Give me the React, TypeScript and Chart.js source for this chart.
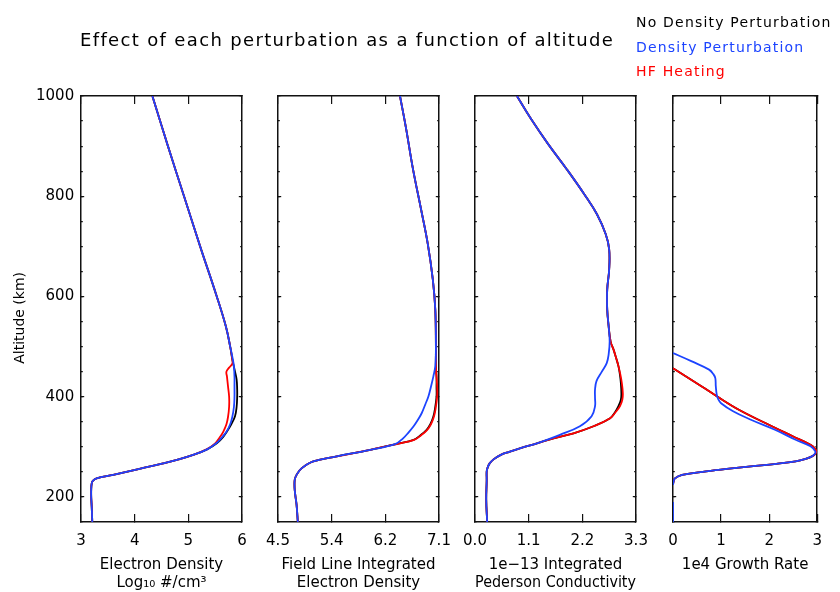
import React, { useEffect, useRef } from 'react';
import { Chart, registerables } from 'chart.js';

Chart.register(...registerables);

const W = 840;
const H = 592;
const PLOT_TOP = 96;
const PLOT_BOTTOM = 522;
const FONT = "'DejaVu Sans', sans-serif";

const BLACK = '#000000';
const BLUE = '#1c44ff';
const RED = '#ff0000';

const TITLE = 'Effect of each perturbation as a function of altitude';
const Y_TITLE = 'Altitude (km)';
const LEGEND = [
  { label: 'No Density Perturbation', color: BLACK },
  { label: 'Density Perturbation', color: BLUE },
  { label: 'HF Heating', color: RED },
];

const Y_MIN = 150;
const Y_MAX = 1000;
const yMajorTicks = [200, 400, 600, 800, 1000];
const yMinorTicks = [150, 200, 250, 300, 350, 400, 450, 500, 550, 600, 650, 700, 750, 800, 850, 900, 950, 1000];

// ---------- Panel 1: Electron density (log10 #/cm3) ----------
const p1Ticks = [3, 4, 5, 6];
const p1TickLabels = ['3', '4', '5', '6'];
const p1AltBlack = [1000, 900, 800, 700, 600, 540, 500, 474, 450, 434, 415, 400, 380, 361, 345, 334, 320, 307, 295, 284, 275, 267, 255, 244, 237, 232, 227, 215, 200, 180, 150];
const p1Black = [4.33, 4.62, 4.92, 5.22, 5.53, 5.70, 5.78, 5.82, 5.87, 5.90, 5.91, 5.91, 5.90, 5.87, 5.80, 5.74, 5.65, 5.53, 5.35, 5.09, 4.82, 4.53, 4.05, 3.60, 3.29, 3.22, 3.20, 3.19, 3.19, 3.20, 3.21];
const p1AltRed = [1000, 900, 800, 700, 600, 540, 500, 474, 466, 458, 450, 440, 420, 400, 380, 360, 345, 330, 318, 307, 295, 284, 275, 267, 255, 244, 237, 232, 227, 215, 200, 180, 150];
const p1Red = [4.33, 4.62, 4.92, 5.22, 5.53, 5.70, 5.78, 5.82, 5.82, 5.76, 5.71, 5.72, 5.74, 5.76, 5.76, 5.74, 5.71, 5.65, 5.58, 5.50, 5.34, 5.09, 4.82, 4.53, 4.05, 3.60, 3.29, 3.22, 3.20, 3.19, 3.19, 3.20, 3.21];
const p1AltBlue = [1000, 900, 800, 700, 600, 540, 500, 474, 460, 440, 420, 400, 380, 360, 345, 330, 318, 307, 295, 284, 275, 267, 255, 244, 237, 232, 227, 215, 200, 180, 150];
const p1Blue = [4.33, 4.62, 4.92, 5.22, 5.53, 5.70, 5.78, 5.83, 5.85, 5.86, 5.86, 5.86, 5.85, 5.82, 5.78, 5.71, 5.62, 5.52, 5.35, 5.09, 4.82, 4.53, 4.05, 3.60, 3.29, 3.22, 3.20, 3.19, 3.19, 3.20, 3.21];

// ---------- Panel 2: Field line integrated electron density ----------
const p2Ticks = [4.5, 5.3667, 6.2333, 7.1];
const p2TickLabels = ['4.5', '5.4', '6.2', '7.1'];
const p2AltBlack = [1000, 934, 854, 774, 704, 634, 574, 500, 461, 440, 420, 401, 380, 361, 345, 334, 324, 314, 306, 294, 281, 271, 257, 244, 234, 214, 184, 150];
const p2Black = [6.47, 6.57, 6.68, 6.81, 6.92, 7.00, 7.04, 7.05, 7.05, 7.06, 7.06, 7.06, 7.04, 7.01, 6.96, 6.90, 6.81, 6.69, 6.42, 5.99, 5.45, 5.07, 4.88, 4.80, 4.77, 4.77, 4.80, 4.82];
const p2AltRed = [1000, 934, 854, 774, 704, 634, 574, 500, 461, 440, 420, 401, 380, 361, 345, 334, 324, 314, 306, 294, 281, 271, 257, 244, 234, 214, 184, 150];
const p2Red = [6.47, 6.57, 6.68, 6.81, 6.92, 7.00, 7.04, 7.05, 7.05, 7.06, 7.07, 7.07, 7.05, 7.02, 6.97, 6.91, 6.82, 6.70, 6.43, 5.99, 5.45, 5.07, 4.88, 4.80, 4.77, 4.77, 4.80, 4.82];
const p2AltBlue = [1000, 934, 854, 774, 704, 634, 574, 500, 461, 441, 420, 401, 385, 367, 354, 341, 329, 317, 306, 294, 281, 271, 257, 244, 234, 214, 184, 150];
const p2Blue = [6.47, 6.57, 6.68, 6.81, 6.92, 7.00, 7.04, 7.05, 7.04, 7.01, 6.97, 6.93, 6.88, 6.82, 6.76, 6.69, 6.61, 6.52, 6.40, 5.99, 5.45, 5.07, 4.88, 4.80, 4.77, 4.77, 4.80, 4.82];

// ---------- Panel 3: 1e-13 integrated Pederson conductivity ----------
const p3Ticks = [0, 1.1, 2.2, 3.3];
const p3TickLabels = ['0.0', '1.1', '2.2', '3.3'];
const p3AltBlack = [1000, 954, 904, 854, 804, 764, 724, 694, 654, 614, 574, 540, 510, 494, 478, 461, 444, 427, 407, 394, 381, 369, 357, 341, 327, 317, 307, 298, 290, 284, 275, 267, 259, 251, 234, 194, 150];
const p3Black = [0.86, 1.15, 1.50, 1.88, 2.24, 2.50, 2.68, 2.75, 2.75, 2.71, 2.71, 2.74, 2.78, 2.84, 2.89, 2.94, 2.97, 2.99, 3.00, 2.99, 2.94, 2.87, 2.77, 2.43, 2.02, 1.61, 1.27, 0.95, 0.70, 0.53, 0.38, 0.30, 0.26, 0.24, 0.24, 0.23, 0.25];
const p3AltRed = [1000, 954, 904, 854, 804, 764, 724, 694, 654, 614, 574, 540, 510, 494, 478, 461, 444, 427, 407, 394, 381, 369, 357, 341, 327, 317, 307, 298, 290, 284, 275, 267, 259, 251, 234, 194, 150];
const p3Red = [0.86, 1.15, 1.50, 1.88, 2.24, 2.50, 2.68, 2.75, 2.75, 2.71, 2.71, 2.74, 2.78, 2.84, 2.89, 2.94, 2.98, 3.01, 3.03, 3.02, 2.97, 2.88, 2.77, 2.43, 2.02, 1.61, 1.27, 0.95, 0.70, 0.53, 0.38, 0.30, 0.26, 0.24, 0.24, 0.23, 0.25];
const p3AltBlue = [1000, 954, 904, 854, 804, 764, 724, 694, 654, 614, 574, 540, 510, 485, 467, 450, 431, 414, 398, 381, 361, 341, 324, 307, 298, 290, 284, 275, 267, 259, 251, 234, 194, 150];
const p3Blue = [0.86, 1.15, 1.50, 1.88, 2.24, 2.50, 2.68, 2.75, 2.75, 2.71, 2.71, 2.74, 2.76, 2.74, 2.70, 2.60, 2.49, 2.46, 2.46, 2.46, 2.39, 2.15, 1.74, 1.27, 0.95, 0.70, 0.53, 0.38, 0.30, 0.26, 0.24, 0.24, 0.23, 0.25];

// ---------- Panel 4: 1e4 growth rate ----------
const p4Ticks = [0, 1, 2, 3];
const p4TickLabels = ['0', '1', '2', '3'];
const p4AltBlack = [457, 429, 401, 374, 347, 321, 304, 296, 291, 286, 281, 276, 271, 266, 261, 256, 251, 244, 237, 230, 224];
const p4Black = [0, 0.46, 0.91, 1.37, 1.93, 2.49, 2.86, 2.96, 2.98, 2.96, 2.89, 2.76, 2.55, 2.15, 1.62, 1.12, 0.69, 0.19, 0.04, 0.01, 0];
const p4AltRed = [457, 429, 401, 374, 347, 321, 304, 296, 291, 286, 281, 276, 271, 266, 261, 256, 251, 244, 237, 230, 224];
const p4Red = [0, 0.46, 0.91, 1.37, 1.93, 2.49, 2.86, 2.96, 2.98, 2.96, 2.89, 2.76, 2.55, 2.15, 1.62, 1.12, 0.69, 0.19, 0.04, 0.01, 0];
const p4AltBlue = [487, 471, 454, 445, 437, 421, 404, 395, 387, 371, 354, 334, 314, 301, 291, 286, 281, 276, 271, 266, 261, 256, 251, 244, 237, 230, 224];
const p4Blue = [0, 0.38, 0.75, 0.84, 0.88, 0.89, 0.91, 0.94, 1.0, 1.25, 1.62, 2.12, 2.55, 2.86, 2.96, 2.95, 2.89, 2.76, 2.55, 2.15, 1.62, 1.12, 0.69, 0.19, 0.04, 0.01, 0];
const p4AltBlueLow = [190, 150];
const p4BlueLow = [0, 0];

type Series = { alt: number[]; val: number[]; color: string };
type PanelSpec = {
  left: number;
  right: number;
  xMin: number;
  xMax: number;
  xTicks: number[];
  xTickLabels: string[];
  xTitle: string[];
  titlePadBottom: number;
  showY: boolean;
  series: Series[];
};

const PANELS: PanelSpec[] = [
  {
    left: 81, right: 242, xMin: 3, xMax: 6, xTicks: p1Ticks, xTickLabels: p1TickLabels,
    xTitle: ['Electron Density', 'Log\u2081\u2080 #/cm\u00b3'], titlePadBottom: 0, showY: true,
    series: [
      { alt: p1AltBlue, val: p1Blue, color: BLUE },
      { alt: p1AltRed, val: p1Red, color: RED },
      { alt: p1AltBlack, val: p1Black, color: BLACK },
    ],
  },
  {
    left: 278, right: 439, xMin: 4.5, xMax: 7.1, xTicks: p2Ticks, xTickLabels: p2TickLabels,
    xTitle: ['Field Line Integrated', 'Electron Density'], titlePadBottom: 0, showY: false,
    series: [
      { alt: p2AltBlue, val: p2Blue, color: BLUE },
      { alt: p2AltRed, val: p2Red, color: RED },
      { alt: p2AltBlack, val: p2Black, color: BLACK },
    ],
  },
  {
    left: 475, right: 636, xMin: 0, xMax: 3.3, xTicks: p3Ticks, xTickLabels: p3TickLabels,
    xTitle: ['1e\u221213 Integrated', 'Pederson Conductivity'], titlePadBottom: 0, showY: false,
    series: [
      { alt: p3AltBlue, val: p3Blue, color: BLUE },
      { alt: p3AltRed, val: p3Red, color: RED },
      { alt: p3AltBlack, val: p3Black, color: BLACK },
    ],
  },
  {
    left: 673, right: 834, xMin: 0, xMax: 3, xTicks: p4Ticks, xTickLabels: p4TickLabels,
    xTitle: ['1e4 Growth Rate'], titlePadBottom: 18, showY: false,
    series: [
      { alt: p4AltBlue, val: p4Blue, color: BLUE },
      { alt: p4AltBlueLow, val: p4BlueLow, color: BLUE },
      { alt: p4AltRed, val: p4Red, color: RED },
      { alt: p4AltBlack, val: p4Black, color: BLACK },
    ],
  },
];

const AXIS_COLOR = '#111111';

function Panel({ spec }: { spec: PanelSpec }) {
  const ref = useRef<HTMLCanvasElement | null>(null);
  useEffect(() => {
    if (!ref.current) return;
    const setTicks = (vals: number[]) => (s: any) => {
      s.ticks = vals.map((v) => ({ value: v }));
    };
    const tickGrid = (len: number) => ({
      drawOnChartArea: false,
      drawTicks: true,
      tickLength: len,
      color: AXIS_COLOR,
      lineWidth: 1.2,
    });
    const border = { display: true, color: AXIS_COLOR, width: 1.5 };
    const chart = new Chart(ref.current, {
      type: 'scatter',
      data: {
        datasets: spec.series.map((s) => ({
          data: s.alt.map((a, i) => ({ x: s.val[i], y: a })),
          borderColor: s.color,
          backgroundColor: s.color,
          showLine: true,
          pointRadius: 0,
          borderWidth: 1.8,
          tension: 0.4,
          xAxisID: 'x',
          yAxisID: 'y',
        })),
      },
      options: {
        responsive: false,
        maintainAspectRatio: false,
        animation: false,
        events: [],
        layout: { padding: 0 },
        plugins: { legend: { display: false }, tooltip: { enabled: false }, title: { display: false } },
        scales: {
          x: {
            type: 'linear', position: 'bottom', min: spec.xMin, max: spec.xMax,
            afterBuildTicks: setTicks(spec.xTicks),
            afterFit: (s: any) => { s.height = H - PLOT_BOTTOM; },
            ticks: {
              autoSkip: false, maxRotation: 0, minRotation: 0, padding: 18, color: '#000',
              font: { family: FONT, size: 15 },
              callback: (_v: any, i: number) => spec.xTickLabels[i],
            },
            grid: tickGrid(-8),
            border,
            title: {
              display: true, text: spec.xTitle, color: '#000',
              font: { family: FONT, size: 15, lineHeight: 1.2 },
              padding: { top: 0, bottom: spec.titlePadBottom },
            },
          },
          x2: {
            type: 'linear', position: 'top', min: spec.xMin, max: spec.xMax,
            afterBuildTicks: setTicks(spec.xTicks),
            afterFit: (s: any) => { s.height = PLOT_TOP; },
            ticks: { display: false },
            grid: tickGrid(-8),
            border,
          },
          y: {
            type: 'linear', position: 'left', min: Y_MIN, max: Y_MAX, weight: 1,
            afterBuildTicks: setTicks(yMajorTicks),
            afterFit: (s: any) => { s.width = spec.left; },
            ticks: {
              display: spec.showY, padding: 10, color: '#000',
              font: { family: FONT, size: 15 },
              callback: (v: any) => String(v),
            },
            grid: tickGrid(-3.2),
            border,
            title: {
              display: spec.showY, text: Y_TITLE + '    ', color: '#000',
              font: { family: FONT, size: 14, lineHeight: 1.2 },
              padding: { top: 12, bottom: 0 },
            },
          },
          ym: {
            type: 'linear', position: 'left', min: Y_MIN, max: Y_MAX, weight: 0,
            afterBuildTicks: setTicks(yMinorTicks),
            afterFit: (s: any) => { s.width = 0; },
            ticks: { display: false },
            grid: tickGrid(-1.8),
            border: { display: false },
          },
          y2: {
            type: 'linear', position: 'right', min: Y_MIN, max: Y_MAX, weight: 1,
            afterBuildTicks: setTicks(yMajorTicks),
            afterFit: (s: any) => { s.width = W - spec.right; },
            ticks: { display: false },
            grid: tickGrid(-3.2),
            border,
          },
          ym2: {
            type: 'linear', position: 'right', min: Y_MIN, max: Y_MAX, weight: 0,
            afterBuildTicks: setTicks(yMinorTicks),
            afterFit: (s: any) => { s.width = 0; },
            ticks: { display: false },
            grid: tickGrid(-1.8),
            border: { display: false },
          },
        },
      } as any,
    });
    return () => chart.destroy();
  }, [spec]);
  return (
    <canvas
      ref={ref}
      width={W}
      height={H}
      style={{ position: 'absolute', left: 0, top: 0, width: W, height: H }}
    />
  );
}

export default function App() {
  return (
    <div style={{ position: 'absolute', left: 0, top: 0, width: W, height: H, background: '#fff', overflow: 'hidden' }}>
      {PANELS.map((p, i) => (
        <Panel key={i} spec={p} />
      ))}
      <div
        style={{
          position: 'absolute', left: 80, top: 29, fontFamily: FONT, fontSize: 18, lineHeight: '22px',
          letterSpacing: '1.35px', color: '#000', whiteSpace: 'nowrap',
        }}
      >
        {TITLE}
      </div>
      <div style={{ position: 'absolute', left: 636, top: 10, fontFamily: FONT, fontSize: 14, lineHeight: '24.5px', letterSpacing: '1.2px', whiteSpace: 'nowrap' }}>
        {LEGEND.map((l) => (
          <div key={l.label} style={{ color: l.color }}>{l.label}</div>
        ))}
      </div>
    </div>
  );
}
